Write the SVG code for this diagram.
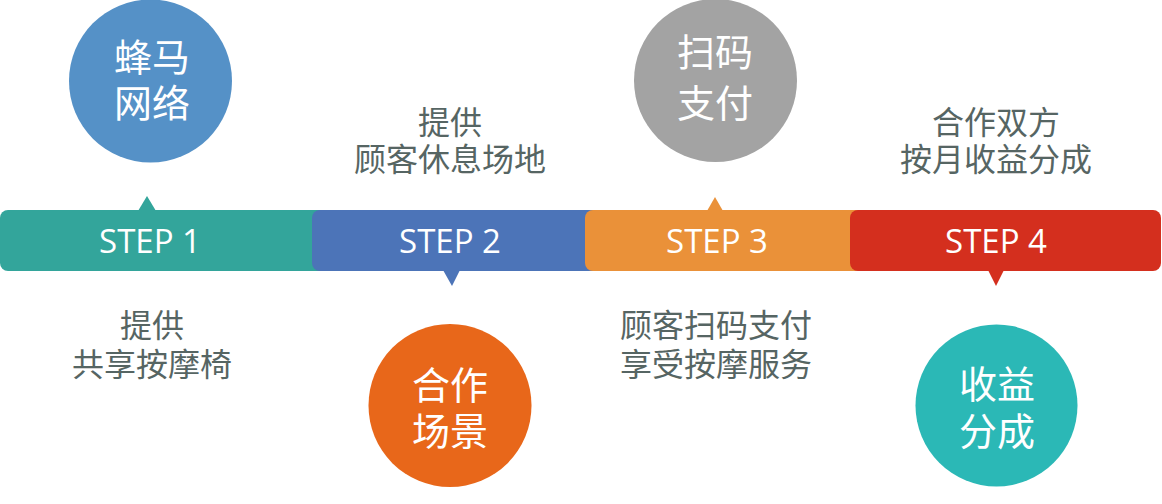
<svg xmlns="http://www.w3.org/2000/svg" width="1162" height="504" viewBox="0 0 1162 504">
<style>
.step{font-family:"Open Sans","Noto Sans",sans-serif;font-size:33px;fill:#ffffff;text-anchor:middle}
.ct{font-family:"Noto Sans CJK SC",sans-serif;font-size:38px;fill:#ffffff;text-anchor:middle}
.lb{font-family:"Noto Sans CJK SC",sans-serif;font-size:32px;fill:#566563;text-anchor:middle}
</style>
<rect width="1162" height="504" fill="#ffffff"/>
<g id="connectors"></g>
<g id="step1">
<rect x="0" y="210" width="340" height="61" rx="8" fill="#33a59b"/>
<polygon points="138,211 147,196 156,211" fill="#33a59b"/>
</g>
<g id="step2">
<rect x="312" y="210" width="290" height="61" rx="8" fill="#4c74b8"/>
<polygon points="443,270 452,286 460,270" fill="#4c74b8"/>
</g>
<g id="step3">
<rect x="585" y="210" width="285" height="61" rx="8" fill="#ea9139"/>
<polygon points="707,211 715,197 723,211" fill="#ea9139"/>
</g>
<g id="step4">
<rect x="850" y="210" width="311" height="61" rx="8" fill="#d42f1e"/>
<polygon points="988,270 996,286 1004,270" fill="#d42f1e"/>
</g>
<g id="step-labels">
<text class="step" x="150" y="253">STEP 1</text>
<text class="step" x="450" y="253">STEP 2</text>
<text class="step" x="717" y="253">STEP 3</text>
<text class="step" x="996" y="253">STEP 4</text>
</g>
<g id="circle1">
<circle cx="150.5" cy="81" r="81.5" fill="#5591c7"/>
<text class="ct" x="152" y="71">蜂马</text>
<text class="ct" x="152" y="117">网络</text>
</g>
<g id="circle2">
<circle cx="450" cy="405.5" r="81.5" fill="#e8671a"/>
<text class="ct" x="450" y="399">合作</text>
<text class="ct" x="450" y="445">场景</text>
</g>
<g id="circle3">
<circle cx="715.5" cy="80.5" r="81.5" fill="#a3a3a3"/>
<text class="ct" x="715" y="66">扫码</text>
<text class="ct" x="715" y="117">支付</text>
</g>
<g id="circle4">
<circle cx="996.5" cy="405.5" r="81" fill="#2bb8b6"/>
<text class="ct" x="997" y="398">收益</text>
<text class="ct" x="997" y="445">分成</text>
</g>
<g id="label2">
<text class="lb" x="450" y="134">提供</text>
<text class="lb" x="450" y="171">顾客休息场地</text>
</g>
<g id="label1">
<text class="lb" x="152" y="337">提供</text>
<text class="lb" x="152" y="376">共享按摩椅</text>
</g>
<g id="label3">
<text class="lb" x="716" y="337">顾客扫码支付</text>
<text class="lb" x="716" y="376">享受按摩服务</text>
</g>
<g id="label4">
<text class="lb" x="996" y="134">合作双方</text>
<text class="lb" x="996" y="171">按月收益分成</text>
</g>
</svg>
